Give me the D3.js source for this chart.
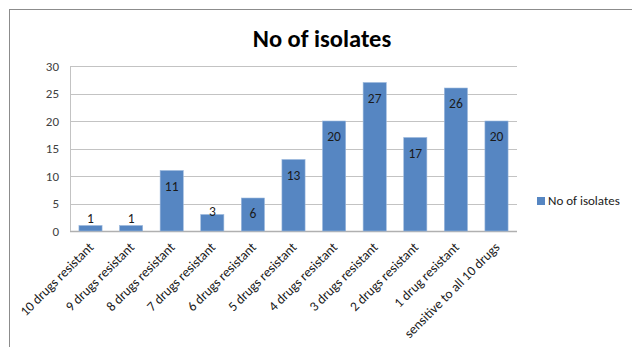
<!DOCTYPE html>
<html lang="en"><head>
<meta charset="utf-8">
<script src="https://cdn.jsdelivr.net/npm/d3@7"></script>
<style>
  body { margin: 0; background: #fff; }
  svg text { font-family: Carlito, "Liberation Sans Narrow", "Open Sans", sans-serif; }
</style>
</head>
<body>
<svg id="chart" width="632" height="347"></svg>
<script>
// data
const categories = ["10 drugs resistant", "9 drugs resistant", "8 drugs resistant",
  "7 drugs resistant", "6 drugs resistant", "5 drugs resistant", "4 drugs resistant",
  "3 drugs resistant", "2 drugs resistant", "1 drug resistant", "sensitive to all 10 drugs"];
const isolates = [1, 1, 11, 3, 6, 13, 20, 27, 17, 26, 20];
const yTicks = [0, 5, 10, 15, 20, 25, 30];
const seriesName = "No of isolates";

const svg = d3.select("#chart");
const margin = {left: 70, right: 115, top: 66, bottom: 116};
const width = 632, height = 347;

// outer chart frame
svg.append("rect")
  .attr("x", 9.5).attr("y", 9.5)
  .attr("width", 640).attr("height", 360)
  .attr("fill", "none").attr("stroke", "#8c8c8c");

let x = d3.scaleBand()
  .domain(categories)
  .range([margin.left, width - margin.right])
  .paddingInner(0.43).paddingOuter(0.22);
let y = d3.scaleLinear()
  .domain([0, 30])
  .range([height - margin.bottom, margin.top]);

// gridlines
svg.append("g")
  .selectAll("line")
  .data(yTicks).enter()
  .append("line")
  .attr("x1", margin.left).attr("x2", width - margin.right)
  .attr("y1", d => Math.round(y(d)) + 0.5).attr("y2", d => Math.round(y(d)) + 0.5)
  .attr("stroke", d => d == 0 ? "#b0b0b0" : "#c3c3c3")
  .attr("stroke-width", d => d == 0 ? 1.5 : 1);

// y axis line
svg.append("line")
  .attr("x1", margin.left + 0.5).attr("x2", margin.left + 0.5)
  .attr("y1", y(30)).attr("y2", y(0))
  .attr("stroke", "#c3c3c3");

// y tick labels
svg.append("g")
  .selectAll("text")
  .data(yTicks).enter()
  .append("text")
  .attr("x", 59).attr("y", d => y(d) + 4.5)
  .attr("text-anchor", "end")
  .attr("font-size", 13)
  .attr("fill", "#404040")
  .text(d => d);

// bars
svg.append("g")
  .selectAll("rect")
  .data(isolates).enter()
  .append("rect")
  .attr("x", (d, i) => x(categories[i]))
  .attr("width", x.bandwidth())
  .attr("y", d => y(d))
  .attr("height", d => y(0) - y(d))
  .attr("fill", "#5686c2")
  .attr("stroke", "#9bb8dd").attr("stroke-width", 0.6);

// value labels
svg.append("g")
  .selectAll("text")
  .data(isolates).enter()
  .append("text")
  .attr("x", (d, i) => x(categories[i]) + x.bandwidth() / 2)
  .attr("y", d => d >= 6 ? y(d) + 20 : (d >= 3 ? y(d) + 1 : y(d) - 3))
  .attr("text-anchor", "middle")
  .attr("font-size", 13.5)
  .attr("fill", "#1a1a1a")
  .text(d => d);

// category labels, rotated
svg.append("g")
  .selectAll("text")
  .data(categories).enter()
  .append("text")
  .attr("transform", d => `translate(${x(d) + x.bandwidth() / 2 + 4},${y(0) + 17}) rotate(-45)`)
  .attr("text-anchor", "end")
  .attr("font-size", 13.5)
  .attr("fill", "#1a1a1a")
  .text(d => d);

// title
svg.append("text")
  .attr("x", 322).attr("y", 47)
  .attr("text-anchor", "middle")
  .attr("font-size", 24.5)
  .attr("font-weight", "bold")
  .attr("fill", "#000")
  .text(seriesName);

// legend
svg.append("rect")
  .attr("x", 537).attr("y", 197)
  .attr("width", 8).attr("height", 8)
  .attr("fill", "#5686c2");
svg.append("text")
  .attr("x", 548).attr("y", 205)
  .attr("font-size", 13)
  .attr("fill", "#1a1a1a")
  .text(seriesName);
</script>
</body>
</html>
